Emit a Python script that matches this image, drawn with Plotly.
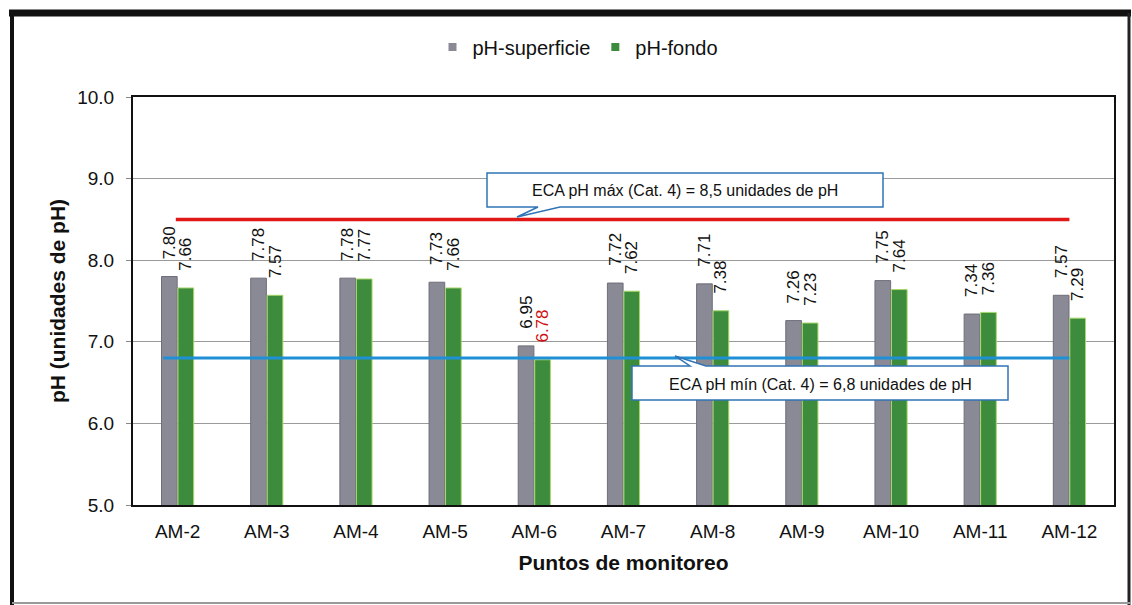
import plotly.graph_objects as go

categories = ["AM-2", "AM-3", "AM-4", "AM-5", "AM-6", "AM-7", "AM-8", "AM-9", "AM-10", "AM-11", "AM-12"]
ph_superficie = [7.80, 7.78, 7.78, 7.73, 6.95, 7.72, 7.71, 7.26, 7.75, 7.34, 7.57]
ph_fondo = [7.66, 7.57, 7.77, 7.66, 6.78, 7.62, 7.38, 7.23, 7.64, 7.36, 7.29]
eca_max = 8.5
eca_min = 6.8
y_ticks = [5.0, 6.0, 7.0, 8.0, 9.0, 10.0]

W, H = 1132, 605
L, R, T, B = 133, 18, 97, 100
PW, PH = W - L - R, H - T - B


def px(x):
    return (x - L) / PW


def py(y):
    return (H - B - y) / PH


GRAY = "#8a8a96"
GREEN = "#3d8b3d"
FONT = "Liberation Sans, Arial"
PAD = "\u00a0\u00a0\u00a0"

fondo_text_colors = ["#d01010" if v <= eca_min + 1e-9 else "#111111" for v in ph_fondo]

fig = go.Figure()
fig.add_trace(go.Bar(
    name="pH-superficie", x=categories, y=ph_superficie, showlegend=False,
    marker=dict(color=GRAY, line=dict(color="#6e6e7a", width=1)),
    text=[PAD + f"{v:.2f}" for v in ph_superficie], textposition="outside", textangle=-90,
    constraintext="none",
    textfont=dict(size=17, color="#111111", family=FONT),
    cliponaxis=False,
))
fig.add_trace(go.Bar(
    name="pH-fondo", x=categories, y=ph_fondo, showlegend=False,
    marker=dict(color=GREEN, line=dict(color="#a8d86a", width=1)),
    text=[PAD + f"{v:.2f}" for v in ph_fondo], textposition="outside", textangle=-90,
    constraintext="none",
    textfont=dict(size=17, color=fondo_text_colors, family=FONT),
    cliponaxis=False,
))
fig.add_trace(go.Scatter(name="pH-superficie", x=[None], y=[None], mode="markers",
                         marker=dict(symbol="square", size=8, color=GRAY)))
fig.add_trace(go.Scatter(name="pH-fondo", x=[None], y=[None], mode="markers",
                         marker=dict(symbol="square", size=8, color=GREEN)))

shapes = []
shapes.append(dict(type="line", xref="x", yref="y", x0=-0.02, x1=10.0, y0=eca_max, y1=eca_max,
                   line=dict(color="#e01818", width=3.5), layer="above"))
shapes.append(dict(type="line", xref="x", yref="y", x0=-0.16, x1=10.0, y0=eca_min, y1=eca_min,
                   line=dict(color="#1f8fd6", width=3), layer="above"))


def callout(box, tail):
    x0, y0, x1, y1 = box
    (tx, ty), (bx0, by), (bx1, _) = tail
    if ty > y1:
        pts = [(x0, y0), (x1, y0), (x1, y1), (bx1, y1), (tx, ty), (bx0, y1), (x0, y1)]
    else:
        pts = [(x0, y0), (bx0, y0), (tx, ty), (bx1, y0), (x1, y0), (x1, y1), (x0, y1)]
    path = "M " + " L ".join(f"{px(a):.5f},{py(b):.5f}" for a, b in pts) + " Z"
    return dict(type="path", xref="paper", yref="paper", path=path,
                fillcolor="white", line=dict(color="#2f74b5", width=1.5), layer="above")


shapes.append(callout((487, 173, 883, 207), ((517, 217), (538, 207), (560, 207))))
shapes.append(callout((632, 366, 1008, 400), ((675, 356), (690, 366), (706, 366))))

frame = [((9, 13), (1131, 13), 7, "#111111"),
         ((12, 13), (12, 605), 4, "#111111"),
         ((1129, 13), (1129, 605), 3, "#222222"),
         ((12, 603), (1131, 603), 2, "#9a9a9a")]
for (a, b), (c, d), w, col in frame:
    shapes.append(dict(type="line", xref="paper", yref="paper",
                       x0=px(a), y0=py(b), x1=px(c), y1=py(d),
                       line=dict(color=col, width=w), layer="above"))

annotations = [
    dict(text="ECA pH máx (Cat. 4) = 8,5 unidades de pH", xref="paper", yref="paper",
         x=px(685), y=py(190), showarrow=False, xanchor="center", yanchor="middle",
         font=dict(size=16, color="#111111", family=FONT)),
    dict(text="ECA pH mín (Cat. 4) = 6,8 unidades de pH", xref="paper", yref="paper",
         x=px(820), y=py(384), showarrow=False, xanchor="center", yanchor="middle",
         font=dict(size=16, color="#111111", family=FONT)),
]

fig.update_layout(
    width=W, height=H,
    margin=dict(l=L, r=R, t=T, b=B),
    paper_bgcolor="white", plot_bgcolor="white",
    barmode="group", bargap=0.63, bargroupgap=0.05,
    font=dict(family=FONT, size=16, color="#111111"),
    legend=dict(orientation="h", x=px(578), xanchor="center", y=py(47), yanchor="middle",
                font=dict(size=20), itemwidth=30, traceorder="normal"),
    shapes=shapes, annotations=annotations,
)
fig.update_xaxes(
    title=dict(text="<b>Puntos de monitoreo</b>", font=dict(size=21), standoff=15),
    showline=True, linecolor="#111111", linewidth=2, mirror=True,
    ticks="", tickfont=dict(size=19), ticklabelstandoff=8,
)
fig.update_yaxes(
    title=dict(text="<b>pH (unidades de pH)</b>", font=dict(size=21), standoff=6),
    range=[5, 10], tickvals=y_ticks, ticktext=[f"{v:.1f}" for v in y_ticks],
    showgrid=True, gridcolor="#9a9a9a", gridwidth=1,
    showline=True, linecolor="#111111", linewidth=2, mirror=True,
    ticks="outside", ticklen=5, tickcolor="#888888", tickfont=dict(size=19),
    ticklabelstandoff=8, zeroline=False,
)

fig.write_html("out.html", config={"displayModeBar": False},
               post_script="document.body.style.margin='0px';document.body.style.overflow='hidden';")
